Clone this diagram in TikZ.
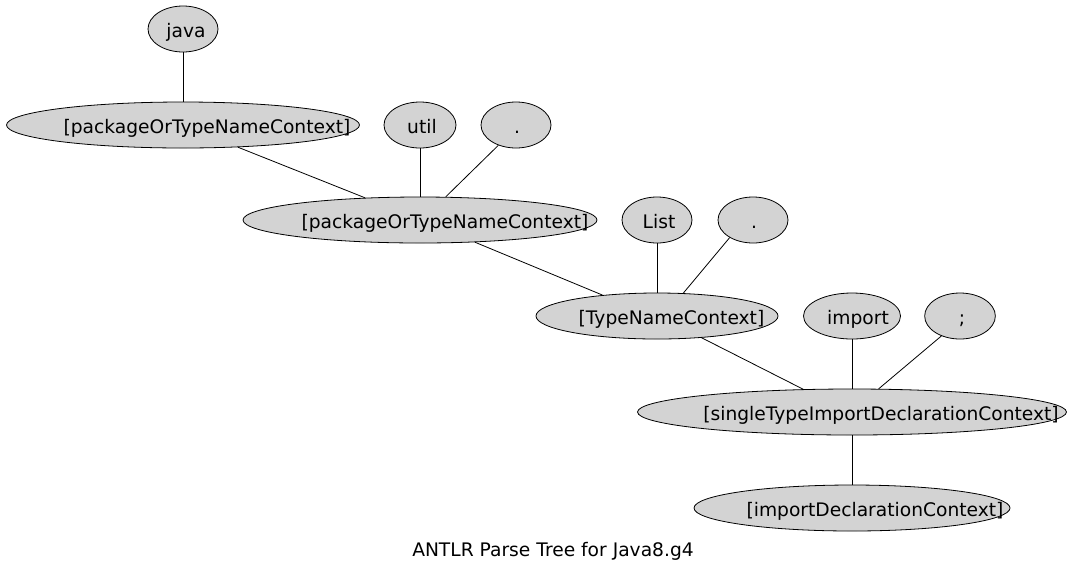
\documentclass[tikz,border=0pt]{standalone}
\usepackage{fontspec}
\setmainfont{DejaVu Sans}
\usetikzlibrary{shapes.geometric}
\definecolor{nodegray}{RGB}{211,211,211}
\tikzset{
  tree/.style={ellipse, draw=black, fill=nodegray, line width=0.6pt, inner sep=0pt, minimum height=34.5pt},
  lbl/.style={anchor=base, inner sep=0pt, font=\fontsize{14pt}{17pt}\selectfont},
  edge/.style={draw=black, line width=0.6pt}
}
\begin{document}
\begin{tikzpicture}[x=0.75pt,y=-0.75pt]
\useasboundingbox (0,0) rectangle (1073,572);
% ellipses
\node[tree, minimum width=52.5pt] (java) at (183,29) {};
\node[tree, minimum width=264.75pt] (pkgA) at (183,125) {};
\node[tree, minimum width=54pt] (util) at (420,125) {};
\node[tree, minimum width=52.5pt] (dotA) at (516,125) {};
\node[tree, minimum width=265.5pt] (pkgB) at (420,220) {};
\node[tree, minimum width=52.5pt] (list) at (657,220) {};
\node[tree, minimum width=52.5pt] (dotB) at (753,220) {};
\node[tree, minimum width=181.5pt] (tname) at (657,316) {};
\node[tree, minimum width=72.75pt] (imp) at (852,316) {};
\node[tree, minimum width=53pt] (semi) at (960,316) {};
\node[tree, minimum width=321.75pt] (single) at (852,412) {};
\node[tree, minimum width=237pt] (idecl) at (852,508) {};
% labels
\node[lbl] (tjava) at (186,37.5) {java};
\node[lbl] (tpkgA) at (207,133.5) {[packageOrTypeNameContext]};
\node[lbl] (tutil) at (422,133.5) {util};
\node[lbl] (tdotA) at (517,133.5) {.};
\node[lbl] (tpkgB) at (445,228.5) {[packageOrTypeNameContext]};
\node[lbl] (tlist) at (659,228.5) {List};
\node[lbl] (tdotB) at (754,228.5) {.};
\node[lbl] (ttname) at (671.5,324.5) {[TypeNameContext]};
\node[lbl] (timp) at (858,324.5) {import};
\node[lbl] (tsemi) at (962,324.5) {;};
\node[lbl] (tsingle) at (881,420.5) {[singleTypeImportDeclarationContext]};
\node[lbl] (tidecl) at (875,516.5) {[importDeclarationContext]};
\node[lbl] (title) at (553,556) {ANTLR Parse Tree for Java8.g4};
% edges
\draw[edge] (java.south) -- (pkgA.north);
\draw[edge] (pkgA.-22) -- (pkgB.158);
\draw[edge] (util.south) -- (pkgB.north);
\draw[edge] (dotA.229) -- (pkgB.42.5);
\draw[edge] (pkgB.-22.7) -- (tname.159);
\draw[edge] (list.south) -- (tname.north);
\draw[edge] (dotB.217.5) -- (tname.41);
\draw[edge] (tname.-26.6) -- (single.155);
\draw[edge] (imp.south) -- (single.north);
\draw[edge] (semi.227.7) -- (single.41.5);
\draw[edge] (single.south) -- (idecl.north);
\end{tikzpicture}
\end{document}
